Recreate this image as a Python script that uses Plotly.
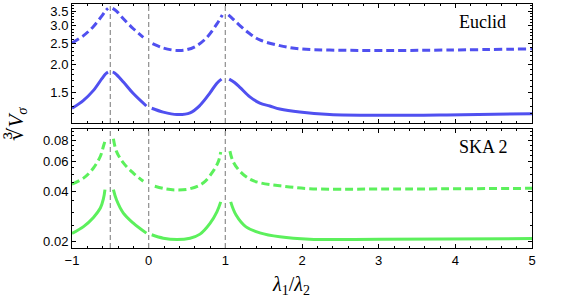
import plotly.graph_objects as go
from plotly.subplots import make_subplots

# ---------------- data ----------------
# Euclid, dashed curve
eu_dash_x = [-1, -0.85, -0.72, -0.61, -0.56, -0.53, None,
             -0.47, -0.42, -0.33, -0.2, -0.07, None,
             0.05, 0.19, 0.37, 0.5, 0.63, 0.76, 0.89, 0.96, None,
             1.04, 1.1, 1.19, 1.32, 1.45, 1.71, 1.97, 2.36, 3.02, 3.89, 5.0]
eu_dash_y = [2.51, 2.71, 2.98, 3.33, 3.52, 3.60, None,
             3.60, 3.50, 3.23, 2.91, 2.66, None,
             2.49, 2.38, 2.32, 2.34, 2.44, 2.66, 3.06, 3.36, None,
             3.36, 3.22, 3.01, 2.76, 2.59, 2.44, 2.36, 2.33, 2.32, 2.33, 2.36]
# Euclid, solid curve
eu_solid_x = [-1, -0.85, -0.72, -0.61, -0.56, -0.53, None,
              -0.47, -0.44, -0.33, -0.2, -0.03, None,
              0.04, 0.19, 0.37, 0.54, 0.67, 0.80, 0.89, 0.95, None,
              1.05, 1.12, 1.19, 1.32, 1.45, 1.58, 1.71, 1.97, 2.36, 3.02, 3.89, 5.0]
eu_solid_y = [1.27, 1.38, 1.53, 1.73, 1.82, 1.85, None,
              1.85, 1.83, 1.67, 1.48, 1.30, None,
              1.27, 1.22, 1.19, 1.21, 1.31, 1.49, 1.65, 1.72, None,
              1.72, 1.66, 1.58, 1.43, 1.34, 1.30, 1.26, 1.22, 1.19, 1.18, 1.185, 1.20]
# SKA 2, dashed curve
ska_dash_x = [-1, -0.85, -0.72, -0.63, -0.59, -0.56, None,
              -0.46, -0.42, -0.33, -0.2, -0.07, None,
              0.08, 0.23, 0.37, 0.54, 0.71, 0.84, 0.91, 0.94, None,
              1.06, 1.1, 1.19, 1.32, 1.45, 1.71, 2.1, 3.02, 5.0]
ska_dash_y = [0.0440, 0.0477, 0.0548, 0.0643, 0.0737, 0.0818, None,
              0.0818, 0.0688, 0.0587, 0.0511, 0.0457, None,
              0.0427, 0.0411, 0.0406, 0.0413, 0.0446, 0.0524, 0.0600, 0.0682, None,
              0.0690, 0.0600, 0.0524, 0.0470, 0.0448, 0.0430, 0.0413, 0.0411, 0.0415]
# SKA 2, solid curve
ska_solid_x = [-1, -0.85, -0.72, -0.63, -0.59, -0.57, None,
               -0.46, -0.42, -0.33, -0.2, -0.03, None,
               0.04, 0.19, 0.37, 0.54, 0.67, 0.80, 0.89, 0.94, None,
               1.07, 1.14, 1.27, 1.45, 1.71, 2.1, 3.02, 5.0]
ska_solid_y = [0.0224, 0.0246, 0.0279, 0.0317, 0.0360, 0.0408, None,
               0.0408, 0.0355, 0.0296, 0.0258, 0.0225, None,
               0.0220, 0.0210, 0.0206, 0.0210, 0.0222, 0.0257, 0.0301, 0.0345, None,
               0.0345, 0.0288, 0.0245, 0.0226, 0.0214, 0.0207, 0.0207, 0.0209]

special_x = [-0.5, 0, 1]
x_ticks = [-1, 0, 1, 2, 3, 4, 5]
x_ticktext = ["\u22121", "0", "1", "2", "3", "4", "5"]
top_ticks = [1.5, 2.0, 2.5, 3.0, 3.5]
top_ticktext = ["1.5", "2.0", "2.5", "3.0", "3.5"]
bot_ticks = [0.02, 0.04, 0.06, 0.08]
bot_ticktext = ["0.02", "0.04", "0.06", "0.08"]
panel_labels = ["Euclid", "SKA 2"]

BLUE = "rgb(80,80,240)"
GREEN = "rgb(92,240,92)"
DASH = "8px,4px"

fig = make_subplots(rows=2, cols=1, shared_xaxes=True, vertical_spacing=6 / 244)

def add(x, y, color, dash, row):
    fig.add_trace(go.Scatter(x=x, y=y, mode="lines", connectgaps=False,
                             line=dict(color=color, width=3, dash=dash,
                                       shape="spline", smoothing=1.0),
                             showlegend=False, hoverinfo="skip"), row=row, col=1)

add(eu_dash_x, eu_dash_y, BLUE, DASH, 1)
add(eu_solid_x, eu_solid_y, BLUE, "solid", 1)
add(ska_dash_x, ska_dash_y, GREEN, DASH, 2)
add(ska_solid_x, ska_solid_y, GREEN, "solid", 2)

for yref in ["y domain", "y2 domain"]:
    xr = "x" if yref == "y domain" else "x2"
    for sx in special_x:
        fig.add_shape(type="line", x0=sx, x1=sx, y0=0, y1=1, xref=xr, yref=yref,
                      line=dict(color="rgb(150,150,150)", width=1.3, dash="5px,3px"),
                      layer="above")

tickfont = dict(family="Liberation Sans, Arial, sans-serif", size=13, color="black")
common_x = dict(range=[-1, 5], tickmode="array", tickvals=x_ticks, ticks="inside",
                ticklen=4, tickcolor="black", showgrid=False, zeroline=False,
                showline=True, linecolor="black", linewidth=1, mirror="ticks",
                minor=dict(dtick=0.2, tick0=0, ticks="inside", ticklen=2,
                           tickcolor="black", showgrid=False))
fig.update_xaxes(**common_x, row=1, col=1, showticklabels=False)
fig.update_xaxes(**common_x, row=2, col=1, ticktext=x_ticktext, tickfont=tickfont)

minor_top = [round(1.1 + 0.1 * i, 2) for i in range(27)]
minor_bot = [round(0.02 + 0.005 * i, 3) for i in range(15)]
common_y = dict(type="log", tickmode="array", ticks="inside", ticklen=4,
                tickcolor="black", showgrid=False, zeroline=False, showline=True,
                linecolor="black", linewidth=1, mirror="ticks", tickfont=tickfont)
fig.update_yaxes(**common_y, row=1, col=1, range=[0.037, 0.576],
                 tickvals=top_ticks, ticktext=top_ticktext,
                 minor=dict(tickmode="array", tickvals=minor_top, ticks="inside",
                            ticklen=2, tickcolor="black", showgrid=False))
fig.update_yaxes(**common_y, row=2, col=1, range=[-1.736, -1.030],
                 tickvals=bot_ticks, ticktext=bot_ticktext,
                 minor=dict(tickmode="array", tickvals=minor_bot, ticks="inside",
                            ticklen=2, tickcolor="black", showgrid=False))

serif = "Liberation Serif, DejaVu Serif, serif"
# panel labels placed in paper coordinates (plot area spans 460 x 244 px)
fig.add_annotation(text=panel_labels[0], xref="paper", yref="paper",
                   x=(482 - 72) / 460, y=1 - (22.5 - 4) / 244,
                   xanchor="center", yanchor="middle", showarrow=False,
                   font=dict(family=serif, size=18, color="black"))
fig.add_annotation(text=panel_labels[1], xref="paper", yref="paper",
                   x=(483 - 72) / 460, y=1 - (146.5 - 4) / 244,
                   xanchor="center", yanchor="middle", showarrow=False,
                   font=dict(family=serif, size=18, color="black"))
fig.add_annotation(text="\u221b<i>V</i><sub><i>\u03c3</i></sub>", xref="paper", yref="paper",
                   x=(16 - 72) / 460, y=1 - (124 - 4) / 244, xanchor="center", yanchor="middle",
                   textangle=-90, showarrow=False,
                   font=dict(family=serif, size=21, color="black"))
fig.add_annotation(text="<i>\u03bb</i><sub>1</sub>/<i>\u03bb</i><sub>2</sub>",
                   xref="paper", yref="paper", x=(291 - 72) / 460, y=1 - (285 - 4) / 244,
                   xanchor="center", yanchor="middle",
                   showarrow=False, font=dict(family=serif, size=20, color="black"))

fig.update_layout(width=573, height=298, margin=dict(l=72, r=41, t=4, b=50),
                  paper_bgcolor="white", plot_bgcolor="white")
fig.write_html("out.html", config={"displayModeBar": False},
               post_script="document.body.style.margin='0';document.body.style.padding='0';")
